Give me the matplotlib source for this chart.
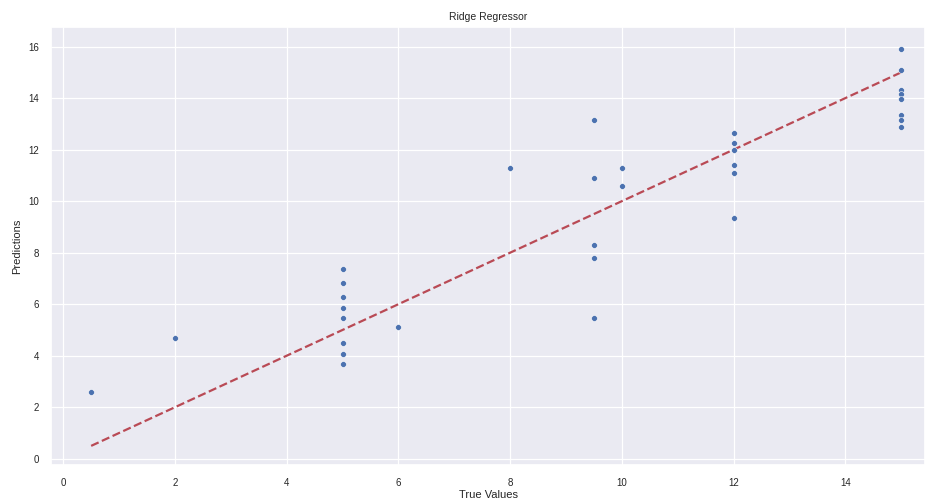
import numpy as np
import matplotlib
matplotlib.use("Agg")
import matplotlib.pyplot as plt
import seaborn as sns

# 실제값 / 예측값
true_values = [0.5, 2,
               5, 5, 5, 5, 5, 5, 5, 5,
               6, 8,
               9.5, 9.5, 9.5, 9.5, 9.5,
               10, 10,
               12, 12, 12, 12, 12, 12,
               15, 15, 15, 15, 15, 15, 15, 15]
predictions = [2.6, 4.7,
               7.37, 6.82, 6.28, 5.87, 5.45, 4.49, 4.08, 3.68,
               5.1, 11.28,
               13.15, 10.9, 8.31, 7.78, 5.45,
               11.28, 10.6,
               12.65, 12.25, 11.98, 11.4, 11.1, 9.33,
               15.92, 15.1, 14.33, 14.17, 13.97, 13.33, 13.14, 12.88]

sns.set_theme(style="darkgrid", color_codes=True)
plt.rcParams["font.family"] = ["Liberation Sans", "DejaVu Sans"]
plt.rcParams["grid.linewidth"] = 0.9

fig = plt.figure(figsize=(9.36, 5.04), dpi=100)
ax = fig.add_axes([0.055, 0.077, 0.933, 0.869])

ax.scatter(true_values, predictions, s=18, color="#4c72b0",
           edgecolor="white", linewidth=0.4, zorder=3)

# 대각선 (y = x)
lo, hi = min(true_values), max(true_values)
ax.plot([lo, hi], [lo, hi], "--", color="#b94a55", linewidth=1.6, zorder=2)

ax.set_xlim(-0.21, 15.42)
ax.set_ylim(-0.25, 16.75)
ax.set_title("Ridge Regressor", fontsize=7.5, pad=5)
ax.set_xlabel("True Values", fontsize=8, labelpad=2)
ax.set_ylabel("Predictions", fontsize=8, labelpad=4)
ax.tick_params(labelsize=7, pad=3)

fig.savefig("out.png", dpi=100)
